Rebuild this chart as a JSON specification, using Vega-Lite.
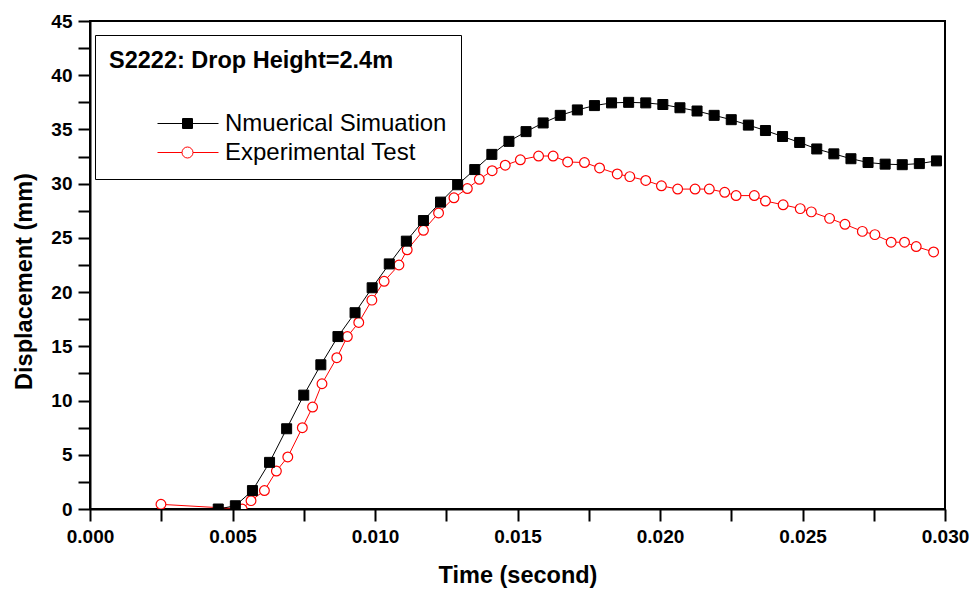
{
  "$schema": "https://vega.github.io/schema/vega-lite/v6.json",
  "autosize": {"type": "none"},
  "width": 855,
  "height": 488,
  "padding": {"left": 90, "top": 21, "right": 31, "bottom": 88},
  "background": "white",
  "config": {
    "font": "Liberation Sans",
    "view": {"stroke": "black", "strokeWidth": 2},
    "legend": {"strokeWidth": 1},
    "axis": {
      "grid": false,
      "domainColor": "black",
      "domainWidth": 2,
      "tickColor": "black",
      "tickWidth": 2,
      "labelColor": "black",
      "labelFont": "Liberation Sans",
      "labelFontWeight": "bold",
      "labelFontSize": 19,
      "titleColor": "black",
      "titleFont": "Liberation Sans",
      "titleFontWeight": "bold",
      "titleFontSize": 23.5
    }
  },
  "datasets": {
    "sim": [
      {"t": 0.0045, "d": 0, "s": "Nmuerical Simuation"},
      {"t": 0.0051, "d": 0.3, "s": "Nmuerical Simuation"},
      {"t": 0.0057, "d": 1.7, "s": "Nmuerical Simuation"},
      {"t": 0.0063, "d": 4.3, "s": "Nmuerical Simuation"},
      {"t": 0.0069, "d": 7.4, "s": "Nmuerical Simuation"},
      {"t": 0.0075, "d": 10.5, "s": "Nmuerical Simuation"},
      {"t": 0.0081, "d": 13.3, "s": "Nmuerical Simuation"},
      {"t": 0.0087, "d": 15.9, "s": "Nmuerical Simuation"},
      {"t": 0.0093, "d": 18.1, "s": "Nmuerical Simuation"},
      {"t": 0.0099, "d": 20.4, "s": "Nmuerical Simuation"},
      {"t": 0.0105, "d": 22.6, "s": "Nmuerical Simuation"},
      {"t": 0.0111, "d": 24.7, "s": "Nmuerical Simuation"},
      {"t": 0.0117, "d": 26.6, "s": "Nmuerical Simuation"},
      {"t": 0.0123, "d": 28.3, "s": "Nmuerical Simuation"},
      {"t": 0.0129, "d": 29.9, "s": "Nmuerical Simuation"},
      {"t": 0.0135, "d": 31.3, "s": "Nmuerical Simuation"},
      {"t": 0.0141, "d": 32.7, "s": "Nmuerical Simuation"},
      {"t": 0.0147, "d": 33.9, "s": "Nmuerical Simuation"},
      {"t": 0.0153, "d": 34.8, "s": "Nmuerical Simuation"},
      {"t": 0.0159, "d": 35.6, "s": "Nmuerical Simuation"},
      {"t": 0.0165, "d": 36.3, "s": "Nmuerical Simuation"},
      {"t": 0.0171, "d": 36.8, "s": "Nmuerical Simuation"},
      {"t": 0.0177, "d": 37.2, "s": "Nmuerical Simuation"},
      {"t": 0.0183, "d": 37.45, "s": "Nmuerical Simuation"},
      {"t": 0.0189, "d": 37.5, "s": "Nmuerical Simuation"},
      {"t": 0.0195, "d": 37.45, "s": "Nmuerical Simuation"},
      {"t": 0.0201, "d": 37.3, "s": "Nmuerical Simuation"},
      {"t": 0.0207, "d": 37.0, "s": "Nmuerical Simuation"},
      {"t": 0.0213, "d": 36.7, "s": "Nmuerical Simuation"},
      {"t": 0.0219, "d": 36.3, "s": "Nmuerical Simuation"},
      {"t": 0.0225, "d": 35.9, "s": "Nmuerical Simuation"},
      {"t": 0.0231, "d": 35.4, "s": "Nmuerical Simuation"},
      {"t": 0.0237, "d": 34.9, "s": "Nmuerical Simuation"},
      {"t": 0.0243, "d": 34.35, "s": "Nmuerical Simuation"},
      {"t": 0.0249, "d": 33.8, "s": "Nmuerical Simuation"},
      {"t": 0.0255, "d": 33.2, "s": "Nmuerical Simuation"},
      {"t": 0.0261, "d": 32.75, "s": "Nmuerical Simuation"},
      {"t": 0.0267, "d": 32.3, "s": "Nmuerical Simuation"},
      {"t": 0.0273, "d": 31.95, "s": "Nmuerical Simuation"},
      {"t": 0.0279, "d": 31.8, "s": "Nmuerical Simuation"},
      {"t": 0.0285, "d": 31.75, "s": "Nmuerical Simuation"},
      {"t": 0.0291, "d": 31.85, "s": "Nmuerical Simuation"},
      {"t": 0.0297, "d": 32.1, "s": "Nmuerical Simuation"}
    ],
    "exp": [
      {"t": 0.00249, "d": 0.43, "s": "Experimental Test"},
      {"t": 0.00534, "d": 0.0, "s": "Experimental Test"},
      {"t": 0.00565, "d": 0.77, "s": "Experimental Test"},
      {"t": 0.00612, "d": 1.7, "s": "Experimental Test"},
      {"t": 0.00654, "d": 3.5, "s": "Experimental Test"},
      {"t": 0.00694, "d": 4.8, "s": "Experimental Test"},
      {"t": 0.00745, "d": 7.5, "s": "Experimental Test"},
      {"t": 0.00781, "d": 9.4, "s": "Experimental Test"},
      {"t": 0.00814, "d": 11.55, "s": "Experimental Test"},
      {"t": 0.00866, "d": 13.95, "s": "Experimental Test"},
      {"t": 0.00903, "d": 15.9, "s": "Experimental Test"},
      {"t": 0.00943, "d": 17.2, "s": "Experimental Test"},
      {"t": 0.00989, "d": 19.26, "s": "Experimental Test"},
      {"t": 0.01032, "d": 21.0, "s": "Experimental Test"},
      {"t": 0.01084, "d": 22.5, "s": "Experimental Test"},
      {"t": 0.01113, "d": 23.9, "s": "Experimental Test"},
      {"t": 0.0117, "d": 25.7, "s": "Experimental Test"},
      {"t": 0.01223, "d": 27.3, "s": "Experimental Test"},
      {"t": 0.01277, "d": 28.7, "s": "Experimental Test"},
      {"t": 0.01324, "d": 29.55, "s": "Experimental Test"},
      {"t": 0.01366, "d": 30.4, "s": "Experimental Test"},
      {"t": 0.01411, "d": 31.2, "s": "Experimental Test"},
      {"t": 0.01457, "d": 31.7, "s": "Experimental Test"},
      {"t": 0.0151, "d": 32.2, "s": "Experimental Test"},
      {"t": 0.01574, "d": 32.55, "s": "Experimental Test"},
      {"t": 0.01625, "d": 32.55, "s": "Experimental Test"},
      {"t": 0.01676, "d": 32.0, "s": "Experimental Test"},
      {"t": 0.01735, "d": 31.95, "s": "Experimental Test"},
      {"t": 0.01788, "d": 31.45, "s": "Experimental Test"},
      {"t": 0.0185, "d": 30.9, "s": "Experimental Test"},
      {"t": 0.01894, "d": 30.65, "s": "Experimental Test"},
      {"t": 0.0195, "d": 30.3, "s": "Experimental Test"},
      {"t": 0.02005, "d": 29.8, "s": "Experimental Test"},
      {"t": 0.02062, "d": 29.5, "s": "Experimental Test"},
      {"t": 0.02123, "d": 29.5, "s": "Experimental Test"},
      {"t": 0.02173, "d": 29.5, "s": "Experimental Test"},
      {"t": 0.02227, "d": 29.2, "s": "Experimental Test"},
      {"t": 0.02267, "d": 28.9, "s": "Experimental Test"},
      {"t": 0.02331, "d": 28.9, "s": "Experimental Test"},
      {"t": 0.0237, "d": 28.4, "s": "Experimental Test"},
      {"t": 0.02432, "d": 28.05, "s": "Experimental Test"},
      {"t": 0.02492, "d": 27.7, "s": "Experimental Test"},
      {"t": 0.02531, "d": 27.4, "s": "Experimental Test"},
      {"t": 0.02595, "d": 26.8, "s": "Experimental Test"},
      {"t": 0.02649, "d": 26.25, "s": "Experimental Test"},
      {"t": 0.0271, "d": 25.6, "s": "Experimental Test"},
      {"t": 0.02754, "d": 25.3, "s": "Experimental Test"},
      {"t": 0.02811, "d": 24.6, "s": "Experimental Test"},
      {"t": 0.02858, "d": 24.6, "s": "Experimental Test"},
      {"t": 0.02899, "d": 24.2, "s": "Experimental Test"},
      {"t": 0.0296, "d": 23.7, "s": "Experimental Test"}
    ]
  },
  "encoding": {
    "x": {
      "field": "t",
      "type": "quantitative",
      "title": "Time (second)",
      "scale": {"domain": [0, 0.03], "nice": false, "zero": false},
      "axis": {
        "values": [0, 0.0025, 0.005, 0.0075, 0.01, 0.0125, 0.015, 0.0175, 0.02, 0.0225, 0.025, 0.0275, 0.03],
        "labelExpr": "round(datum.value*10000) % 50 === 0 ? format(datum.value, '.3f') : ''",
        "tickSize": 12,
        "labelPadding": 6,
        "titlePadding": 17,
        "labelFlush": false,
        "labelOverlap": false,
        "encode": {"ticks": {"update": {"y2": {"signal": "round(datum.value*10000) % 50 === 0 ? 12 : 6"}}}}
      }
    },
    "y": {
      "field": "d",
      "type": "quantitative",
      "title": "Displacement (mm)",
      "scale": {"domain": [0, 45], "nice": false},
      "axis": {
        "values": [0, 2.5, 5, 7.5, 10, 12.5, 15, 17.5, 20, 22.5, 25, 27.5, 30, 32.5, 35, 37.5, 40, 42.5, 45],
        "labelExpr": "datum.value % 5 === 0 ? datum.label : ''",
        "tickSize": 12,
        "labelPadding": 6,
        "titlePadding": 14,
        "titleY": 260,
        "labelFlush": false,
        "labelOverlap": false,
        "encode": {"ticks": {"update": {"x2": {"signal": "datum.value % 5 === 0 ? -12 : -6"}}}}
      }
    }
  },
  "layer": [
    {
      "data": {"name": "sim"},
      "mark": {"type": "point", "filled": false, "opacity": 0, "size": 10},
      "encoding": {
        "color": {
          "field": "s",
          "type": "nominal",
          "scale": {"domain": ["Nmuerical Simuation", "Experimental Test"], "range": ["black", "#ff0000"]},
          "legend": {
            "orient": "none",
            "legendX": 5,
            "legendY": 14,
            "title": "S2222: Drop Height=2.4m",
            "strokeColor": "black",
            "fillColor": "white",
            "padding": 14,
            "titleFont": "Liberation Sans",
            "titleFontSize": 23.5,
            "titleFontWeight": "bold",
            "titleColor": "black",
            "titlePadding": 39,
            "titleLimit": 500,
            "labelFont": "Liberation Sans",
            "labelFontSize": 24,
            "labelColor": "black",
            "labelOffset": 92,
            "labelLimit": 400,
            "symbolSize": 400,
            "symbolStrokeWidth": 1,
            "symbolOpacity": 1,
            "rowPadding": 5,
            "encode": {"title": {"update": {"dx": {"value": 14}}}}
          }
        },
        "shape": {
          "field": "s",
          "type": "nominal",
          "scale": {
            "domain": ["Nmuerical Simuation", "Experimental Test"],
            "range": [
              "M3.65,0H9.75M6.15,-0.5H7.15V0.5H6.15ZM6.15,-0.4H7.15M6.15,-0.3H7.15M6.15,-0.2H7.15M6.15,-0.1H7.15M6.15,0.1H7.15M6.15,0.2H7.15M6.15,0.3H7.15M6.15,0.4H7.15",
              "M3.65,0H6.1M7.2,0H9.75M6.1,0A0.55,0.55 0 1,1 7.2,0A0.55,0.55 0 1,1 6.1,0Z"
            ]
          },
          "legend": {
            "orient": "none",
            "legendX": 5,
            "legendY": 14,
            "title": "S2222: Drop Height=2.4m",
            "strokeColor": "black",
            "fillColor": "white",
            "padding": 14,
            "titleFont": "Liberation Sans",
            "titleFontSize": 23.5,
            "titleFontWeight": "bold",
            "titleColor": "black",
            "titlePadding": 39,
            "titleLimit": 500,
            "labelFont": "Liberation Sans",
            "labelFontSize": 24,
            "labelColor": "black",
            "labelOffset": 92,
            "labelLimit": 400,
            "symbolSize": 400,
            "symbolStrokeWidth": 1,
            "symbolOpacity": 1,
            "rowPadding": 5,
            "encode": {"title": {"update": {"dx": {"value": 14}}}}
          }
        }
      }
    },
    {
      "data": {"name": "exp"},
      "mark": {"type": "line", "strokeWidth": 1, "color": "#ff0000", "clip": true}
    },
    {
      "data": {"name": "exp"},
      "mark": {"type": "point", "shape": "circle", "size": 95, "filled": true, "fill": "white", "stroke": "#ff0000", "strokeWidth": 1.2, "opacity": 1, "clip": true}
    },
    {
      "data": {"name": "sim"},
      "mark": {"type": "line", "strokeWidth": 1, "color": "black", "clip": true}
    },
    {
      "data": {"name": "sim"},
      "mark": {"type": "point", "shape": "square", "size": 100, "filled": true, "fill": "black", "stroke": "black", "strokeWidth": 1, "opacity": 1, "clip": true}
    }
  ]
}
